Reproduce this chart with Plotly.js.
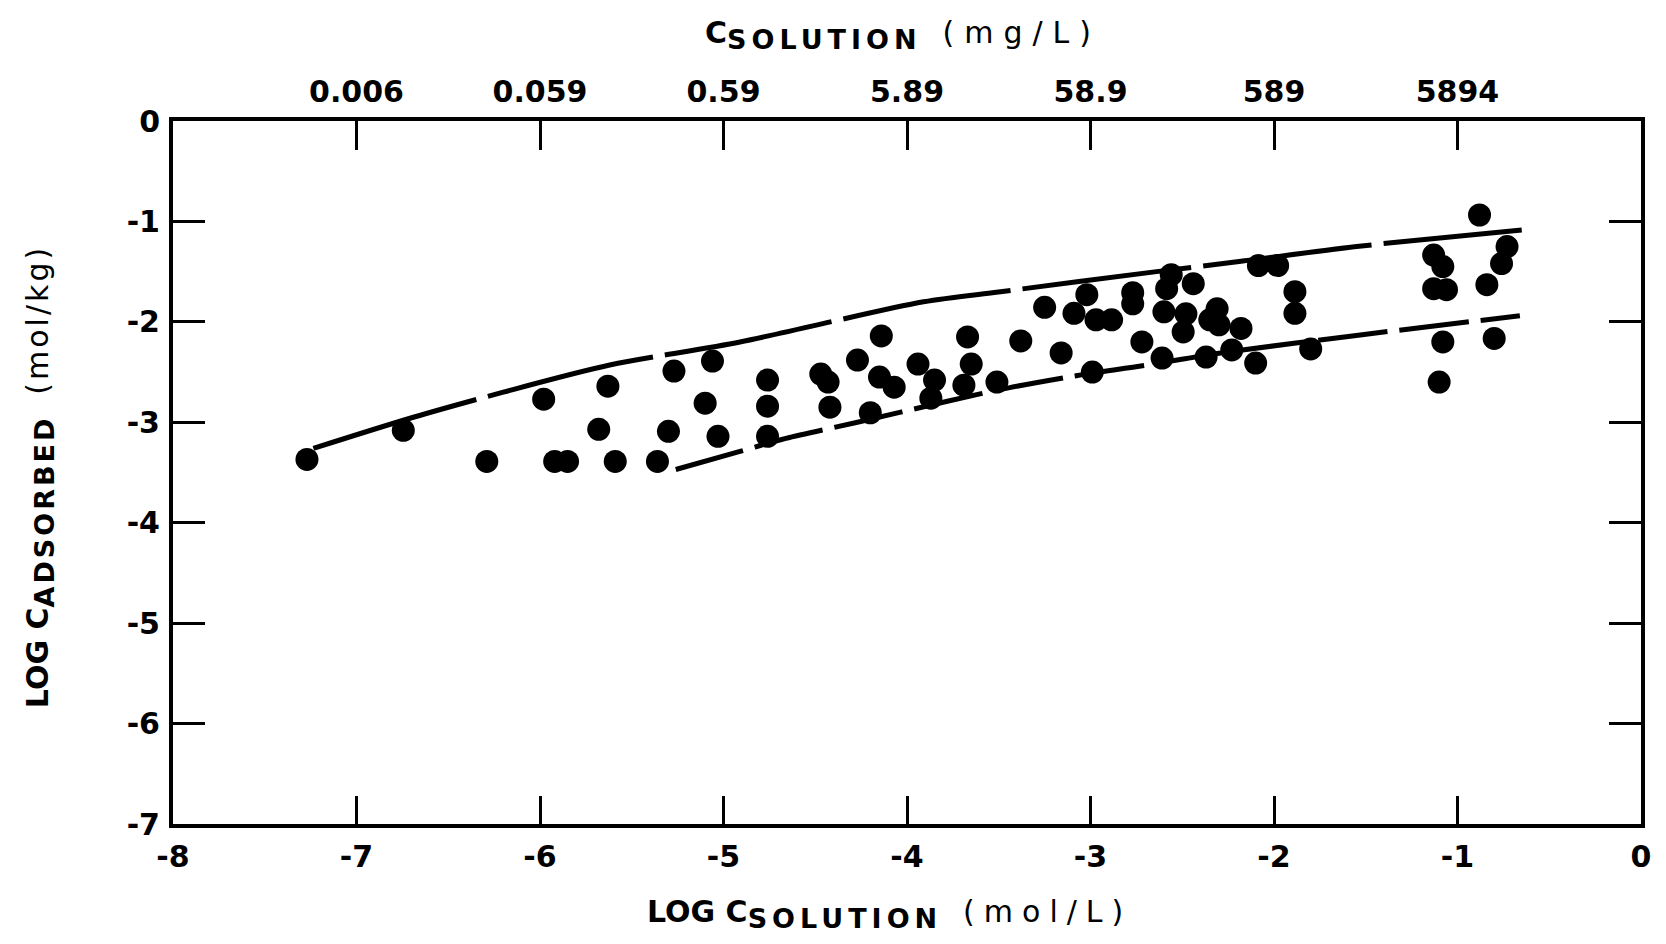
<!DOCTYPE html>
<html>
<head>
<meta charset="utf-8">
<script src="https://cdn.plot.ly/plotly-3.0.1.min.js"></script>
<style>
  html, body { margin: 0; padding: 0; background: #fff; }
  #chart { width: 1666px; height: 944px; }
</style>
</head>
<body>
<div id="chart"></div>
<script>
// Measured points: log C_solution (mol/L) vs log C_adsorbed (mol/kg)
const pointX = [
  -7.27, -6.745, -6.29, -5.98, -5.92, -5.85, -5.63, -5.68, -5.59, -5.27,
  -5.10, -5.30, -5.36, -5.06, -5.03, -4.76, -4.76, -4.76, -4.47, -4.43,
  -4.42, -4.27, -4.14, -4.15, -4.07, -4.20, -3.94, -3.85, -3.87, -3.67,
  -3.65, -3.69, -3.51, -3.38, -3.25, -3.16, -3.09, -3.02, -2.97, -2.885,
  -2.99, -2.77, -2.77, -2.72, -2.61, -2.56, -2.585, -2.60, -2.44, -2.495,
  -2.48, -2.31, -2.30, -2.35, -2.18, -2.23, -2.37, -2.10, -2.085, -1.98,
  -1.886, -1.886, -1.80, -0.88, -1.13, -1.08, -1.13, -1.06, -0.73, -0.76,
  -0.84, -1.08, -0.80, -1.10
];
const pointY = [
  -3.37, -3.08, -3.39, -2.77, -3.39, -3.39, -2.64, -3.07, -3.39, -2.49,
  -2.81, -3.09, -3.39, -2.39, -3.14, -2.58, -2.84, -3.14, -2.52, -2.60,
  -2.85, -2.38, -2.14, -2.55, -2.65, -2.905, -2.42, -2.58, -2.76, -2.15,
  -2.42, -2.63, -2.60, -2.19, -1.855, -2.31, -1.915, -1.73, -1.98, -1.98,
  -2.50, -1.71, -1.82, -2.20, -2.36, -1.53, -1.67, -1.90, -1.62, -2.10,
  -1.92, -1.87, -2.03, -1.98, -2.065, -2.28, -2.35, -2.41, -1.44, -1.44,
  -1.70, -1.915, -2.27, -0.936, -1.335, -1.45, -1.67, -1.68, -1.25, -1.42,
  -1.63, -2.20, -2.165, -2.60
];

// Upper envelope curve
const upperX = [-7.235, -6.69, -6.2, -5.62, -4.91, -3.91, -3.49, -2.64, -2.19, -1.55, -0.65];
const upperY = [-3.26, -2.95, -2.70, -2.43, -2.20, -1.80, -1.70, -1.50, -1.40, -1.25, -1.085];

// Lower envelope curve
const lowerX = [-5.26, -4.91, -4.66, -4.27, -3.78, -3.44, -3.09, -2.69, -2.29, -1.53, -0.66];
const lowerY = [-3.47, -3.29, -3.16, -3.00, -2.79, -2.655, -2.54, -2.43, -2.31, -2.13, -1.94];

// Axis ticks
const bottomTickVals = [-8, -7, -6, -5, -4, -3, -2, -1, 0];
const bottomTickText = ['-8', '-7', '-6', '-5', '-4', '-3', '-2', '-1', '0'];
const leftTickVals = [0, -1, -2, -3, -4, -5, -6, -7];
const leftTickText = ['0', '-1', '-2', '-3', '-4', '-5', '-6', '-7'];
const rightTickVals = [-1, -2, -3, -4, -5, -6];
const topTickVals = [-7, -6, -5, -4, -3, -2, -1];
const topTickText = ['0.006', '0.059', '0.59', '5.89', '58.9', '589', '5894'];

const FAMILY = 'DejaVu Sans, Liberation Sans, sans-serif';
const tickFont = { family: FAMILY, size: 30, color: '#000', weight: 700 };
const titleFont = { family: FAMILY, size: 30, color: '#000', weight: 700 };

const SUB = (s, sp) => '<sub><span style="font-size:27px;letter-spacing:' + sp + 'px">' + s + '</span></sub>';
const UNIT = (s, sp) => '<span style="font-weight:normal;letter-spacing:' + sp + 'px">' + s + '</span>';

const traces = [
  {
    x: upperX, y: upperY, type: 'scatter', mode: 'lines',
    line: { color: '#000', width: 5, shape: 'spline', smoothing: 0.8, dash: '170px,12px' },
    hoverinfo: 'skip', showlegend: false
  },
  {
    x: lowerX, y: lowerY, type: 'scatter', mode: 'lines',
    line: { color: '#000', width: 5, shape: 'spline', smoothing: 0.8, dash: '70px,12px' },
    hoverinfo: 'skip', showlegend: false
  },
  {
    x: pointX, y: pointY, type: 'scatter', mode: 'markers',
    marker: { color: '#000', size: 23, line: { width: 0 } },
    showlegend: false
  },
  {
    x: topTickVals, y: topTickVals.map(() => null), xaxis: 'x2', yaxis: 'y2',
    type: 'scatter', mode: 'markers', hoverinfo: 'skip', showlegend: false
  }
];

const layout = {
  width: 1666, height: 944,
  margin: { l: 173, r: 25, t: 121, b: 120, pad: 0 },
  paper_bgcolor: '#fff', plot_bgcolor: '#fff',
  showlegend: false,
  xaxis: {
    range: [-8, 0], tickmode: 'array', tickvals: bottomTickVals, ticktext: bottomTickText,
    ticks: 'inside', ticklen: 28, tickwidth: 3, tickcolor: '#000',
    showline: true, linewidth: 4, linecolor: '#000', mirror: true,
    showgrid: false, zeroline: false, tickfont: tickFont, ticklabelstandoff: 3
  },
  xaxis2: {
    overlaying: 'x', side: 'top', range: [-8, 0], tickmode: 'array',
    tickvals: topTickVals, ticktext: topTickText,
    ticks: 'inside', ticklen: 29, tickwidth: 3, tickcolor: '#000',
    showline: false, showgrid: false, zeroline: false, tickfont: tickFont, ticklabelstandoff: 12
  },
  yaxis: {
    range: [-7, 0], tickmode: 'array', tickvals: leftTickVals, ticktext: leftTickText,
    ticks: 'inside', ticklen: 32, tickwidth: 3, tickcolor: '#000',
    showline: true, linewidth: 4, linecolor: '#000', mirror: true,
    showgrid: false, zeroline: false, tickfont: tickFont, ticklabelstandoff: 3
  },
  yaxis2: {
    overlaying: 'y', side: 'right', range: [-7, 0], tickmode: 'array',
    tickvals: rightTickVals, ticks: 'inside', ticklen: 32, tickwidth: 3, tickcolor: '#000',
    showticklabels: false, showline: false, showgrid: false, zeroline: false
  },
  annotations: [
    {
      text: 'LOG C' + SUB('SOLUTION', 5) + '  ' + UNIT('(mol/L)', 9),
      xref: 'paper', yref: 'paper', x: 0.488, y: -0.128, xanchor: 'center', yanchor: 'middle',
      showarrow: false, font: titleFont
    },
    {
      text: 'C' + SUB('SOLUTION', 5) + '  ' + UNIT('(mg/L)', 10),
      xref: 'paper', yref: 'paper', x: 0.497, y: 1.122, xanchor: 'center', yanchor: 'middle',
      showarrow: false, font: titleFont
    },
    {
      text: 'LOG C' + SUB('ADSORBED', 3) + '  ' + UNIT('(mol/kg)', 3),
      xref: 'paper', yref: 'paper', x: -0.091, y: 0.494, xanchor: 'center', yanchor: 'middle',
      textangle: -90, showarrow: false, font: titleFont
    }
  ]
};

Plotly.newPlot('chart', traces, layout, { displayModeBar: false, staticPlot: true });
</script>
</body>
</html>
